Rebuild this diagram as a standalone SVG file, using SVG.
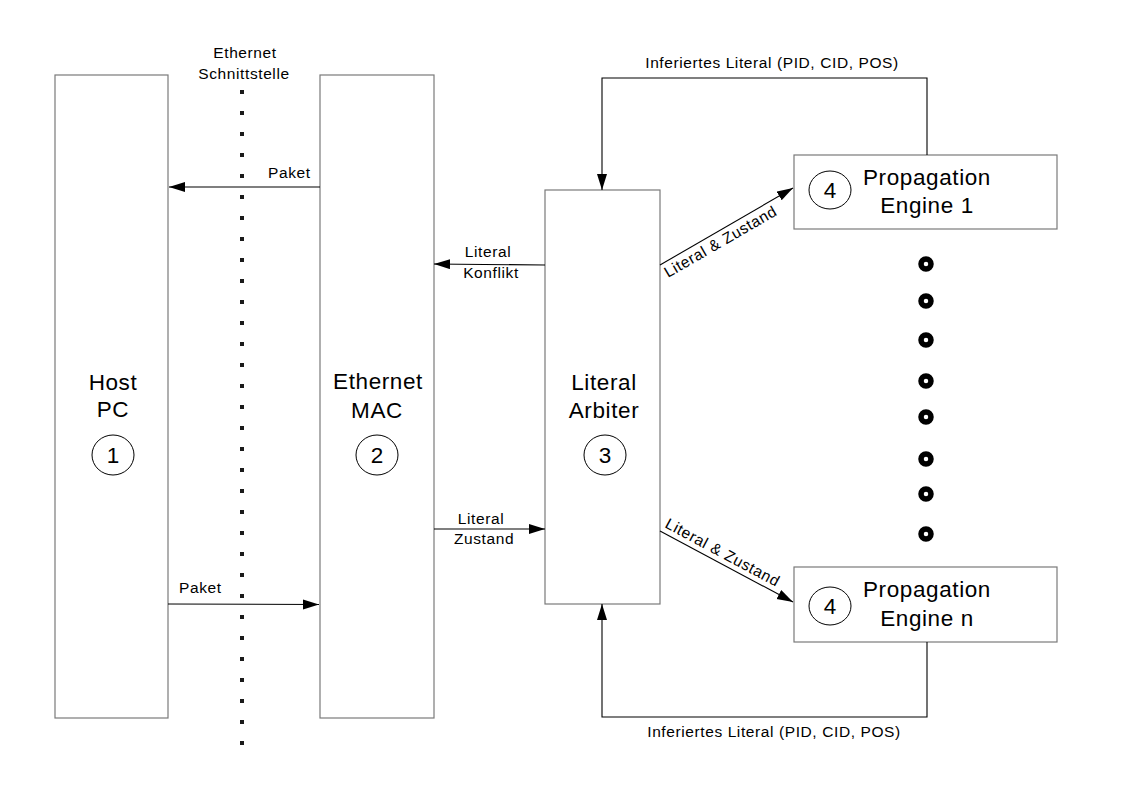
<svg xmlns="http://www.w3.org/2000/svg" width="1123" height="794" viewBox="0 0 1123 794">
<style>
.box{fill:#fff;stroke:#7a7a7a;stroke-width:1.2}
.num{fill:none;stroke:#000;stroke-width:1}
.big{font-family:"Liberation Sans",Arial,sans-serif;font-size:22.5px;letter-spacing:0.6px;fill:#000;text-anchor:middle}
.dig{letter-spacing:0}
.sm{font-family:"Liberation Sans",Arial,sans-serif;font-size:15.5px;letter-spacing:0.6px;fill:#000}
.mid{text-anchor:middle}
.conn{fill:none;stroke:#000;stroke-width:1.1}
.sq{fill:#1a1a1a}
.ring{fill:none;stroke:#000;stroke-width:5.5}
</style>
<defs>
<marker id="ah" markerUnits="userSpaceOnUse" markerWidth="17" markerHeight="11" refX="16" refY="5" orient="auto">
<path d="M0,0 L16,5 L0,10 z" fill="#000"/>
</marker>
</defs>
<rect width="1123" height="794" fill="#fff"/>

<g id="interface">
<text class="sm mid" x="245" y="58">Ethernet</text>
<text class="sm mid" x="244" y="79">Schnittstelle</text>
<g id="dots">
<rect class="sq" x="240" y="90" width="4" height="4"/>
<rect class="sq" x="240" y="111" width="4" height="4"/>
<rect class="sq" x="240" y="132" width="4" height="4"/>
<rect class="sq" x="240" y="153" width="4" height="4"/>
<rect class="sq" x="240" y="174" width="4" height="4"/>
<rect class="sq" x="240" y="195" width="4" height="4"/>
<rect class="sq" x="240" y="216" width="4" height="4"/>
<rect class="sq" x="240" y="237" width="4" height="4"/>
<rect class="sq" x="240" y="258" width="4" height="4"/>
<rect class="sq" x="240" y="279" width="4" height="4"/>
<rect class="sq" x="240" y="300" width="4" height="4"/>
<rect class="sq" x="240" y="321" width="4" height="4"/>
<rect class="sq" x="240" y="342" width="4" height="4"/>
<rect class="sq" x="240" y="363" width="4" height="4"/>
<rect class="sq" x="240" y="384" width="4" height="4"/>
<rect class="sq" x="240" y="405" width="4" height="4"/>
<rect class="sq" x="240" y="426" width="4" height="4"/>
<rect class="sq" x="240" y="447" width="4" height="4"/>
<rect class="sq" x="240" y="468" width="4" height="4"/>
<rect class="sq" x="240" y="489" width="4" height="4"/>
<rect class="sq" x="240" y="510" width="4" height="4"/>
<rect class="sq" x="240" y="531" width="4" height="4"/>
<rect class="sq" x="240" y="552" width="4" height="4"/>
<rect class="sq" x="240" y="573" width="4" height="4"/>
<rect class="sq" x="240" y="594" width="4" height="4"/>
<rect class="sq" x="240" y="615" width="4" height="4"/>
<rect class="sq" x="240" y="636" width="4" height="4"/>
<rect class="sq" x="240" y="657" width="4" height="4"/>
<rect class="sq" x="240" y="678" width="4" height="4"/>
<rect class="sq" x="240" y="699" width="4" height="4"/>
<rect class="sq" x="240" y="720" width="4" height="4"/>
<rect class="sq" x="240" y="741" width="4" height="4"/>
</g>
</g>

<g id="host-pc">
<rect class="box" x="55" y="75" width="113" height="643"/>
<text class="big" x="113" y="390">Host</text>
<text class="big" x="113" y="417">PC</text>
<ellipse class="num" cx="113" cy="455" rx="21" ry="20"/>
<text class="big dig" x="113" y="463">1</text>
</g>

<g id="ethernet-mac">
<rect class="box" x="320" y="75" width="114" height="643"/>
<text class="big" x="378" y="389">Ethernet</text>
<text class="big" x="377" y="418">MAC</text>
<ellipse class="num" cx="377" cy="455" rx="21" ry="20"/>
<text class="big dig" x="377" y="463">2</text>
</g>

<g id="literal-arbiter">
<rect class="box" x="545" y="190" width="115" height="414"/>
<text class="big" x="604" y="390">Literal</text>
<text class="big" x="604" y="418">Arbiter</text>
<ellipse class="num" cx="605" cy="455" rx="21" ry="20"/>
<text class="big dig" x="605" y="463">3</text>
</g>

<g id="propagation-engine-1">
<rect class="box" x="794" y="155" width="263" height="74"/>
<ellipse class="num" cx="830" cy="190" rx="21" ry="19"/>
<text class="big dig" x="830" y="198">4</text>
<text class="big" x="927" y="185">Propagation</text>
<text class="big" x="927" y="213">Engine 1</text>
</g>

<g id="ellipsis">
<circle class="ring" cx="926" cy="264" r="5"/>
<circle class="ring" cx="926" cy="301" r="5"/>
<circle class="ring" cx="926" cy="340" r="5"/>
<circle class="ring" cx="926" cy="381" r="5"/>
<circle class="ring" cx="926" cy="417" r="5"/>
<circle class="ring" cx="926" cy="459" r="5"/>
<circle class="ring" cx="926" cy="494" r="5"/>
<circle class="ring" cx="926" cy="534" r="5"/>
</g>

<g id="propagation-engine-n">
<rect class="box" x="794" y="567" width="263" height="75"/>
<ellipse class="num" cx="830" cy="606" rx="21" ry="19"/>
<text class="big dig" x="830" y="614">4</text>
<text class="big" x="927" y="597">Propagation</text>
<text class="big" x="927" y="626">Engine n</text>
</g>

<g id="connectors">
<line class="conn" x1="320" y1="187" x2="169" y2="187" marker-end="url(#ah)"/>
<line class="conn" x1="168" y1="604" x2="319" y2="604.5" marker-end="url(#ah)"/>
<line class="conn" x1="545" y1="265" x2="434" y2="264" marker-end="url(#ah)"/>
<line class="conn" x1="434" y1="529" x2="545" y2="529" marker-end="url(#ah)"/>
<line class="conn" x1="660" y1="265" x2="793" y2="188" marker-end="url(#ah)"/>
<line class="conn" x1="660" y1="531" x2="793" y2="602" marker-end="url(#ah)"/>
<polyline class="conn" points="927,155 927,78 602,78 602,190" marker-end="url(#ah)"/>
<polyline class="conn" points="927,642 927,717 602,717 602,604" marker-end="url(#ah)"/>
<text class="sm" x="268" y="178">Paket</text>
<text class="sm" x="179" y="593">Paket</text>
<text class="sm mid" x="488" y="257">Literal</text>
<text class="sm mid" x="491" y="278">Konflikt</text>
<text class="sm mid" x="481" y="524">Literal</text>
<text class="sm mid" x="484" y="544">Zustand</text>
<text class="sm" transform="translate(668,278) rotate(-30)">Literal &amp; Zustand</text>
<text class="sm" transform="translate(664,527) rotate(28.2)">Literal &amp; Zustand</text>
<text class="sm mid" x="772" y="68">Inferiertes Literal (PID, CID, POS)</text>
<text class="sm mid" x="774" y="737">Inferiertes Literal (PID, CID, POS)</text>
</g>
</svg>
